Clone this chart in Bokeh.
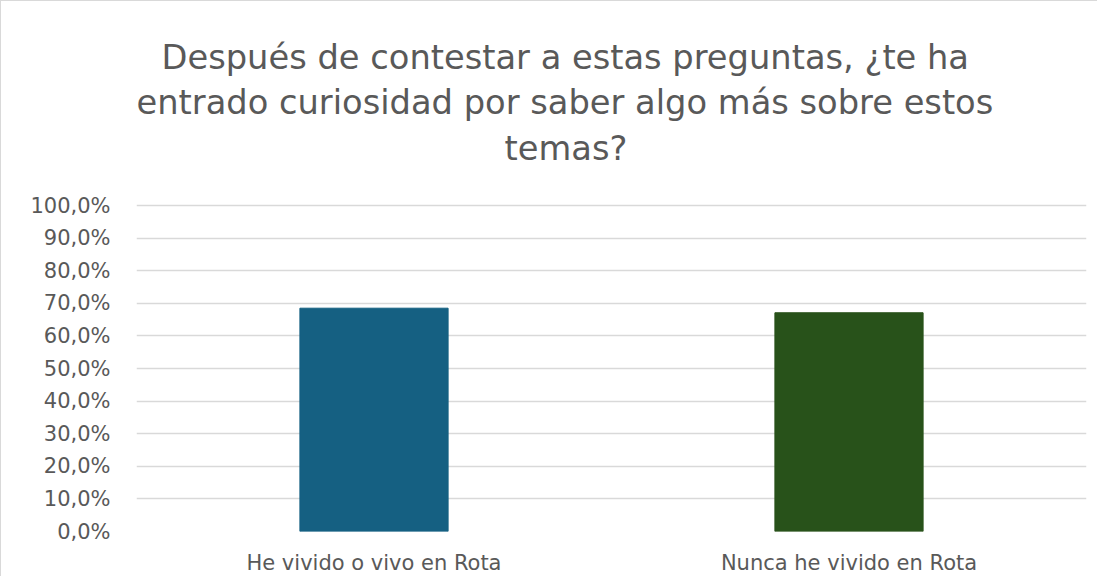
from bokeh.plotting import figure
from bokeh.models import ColumnDataSource, Title, FixedTicker, CustomJSTickFormatter, Range1d
from bokeh.embed import file_html
from bokeh.resources import INLINE

title_lines = ["Después de contestar a estas preguntas, ¿te ha",
               "entrado curiosidad por saber algo más sobre estos",
               "temas?"]
categories = ["He vivido o vivo en Rota", "Nunca he vivido en Rota"]
values = [68.5, 67.1]
colors = ["#156082", "#28521A"]
y_ticks = [0, 10, 20, 30, 40, 50, 60, 70, 80, 90, 100]

FONT = "DejaVu Sans"
GREY = "#595959"

src = ColumnDataSource(dict(cat=categories, val=values, color=colors))

# y range extends above 100 to leave room under the title (no ticks/grid there)
p = figure(x_range=categories, y_range=Range1d(0, 110.74), width=1097, height=576,
           output_backend="svg", toolbar_location=None,
           min_border_left=135, min_border_right=12, min_border_bottom=46, min_border_top=169)
p.styles = {"border-left": "1px solid #d9d9d9", "border-top": "1px solid #d9d9d9"}

p.vbar(x="cat", top="val", width=0.312, color="color", source=src)

offsets = [25, 0, 368]
standoffs = [3, 5, 5]
for line, off, so in reversed(list(zip(title_lines, offsets, standoffs))):
    p.add_layout(Title(text=line, align="left", offset=off, standoff=so,
                       text_font=FONT, text_font_size="33.7px", text_font_style="normal",
                       text_color=GREY), "above")

p.outline_line_color = None
p.xgrid.grid_line_color = None
p.ygrid.grid_line_color = "#d9d9d9"
p.ygrid.grid_line_width = 1.5
p.yaxis.ticker = FixedTicker(ticks=y_ticks)
p.yaxis.formatter = CustomJSTickFormatter(code="return tick.toFixed(1).replace('.', ',') + '%';")
for ax in (p.xaxis, p.yaxis):
    ax.axis_line_color = None
    ax.major_tick_line_color = None
    ax.minor_tick_line_color = None
    ax.major_label_text_font = FONT
    ax.major_label_text_font_size = "21px"
    ax.major_label_text_color = GREY
p.yaxis.major_label_standoff = 20
p.xaxis.major_label_standoff = 13
p.x_range.range_padding = 0

open("out.html", "w").write(file_html(p, INLINE))
